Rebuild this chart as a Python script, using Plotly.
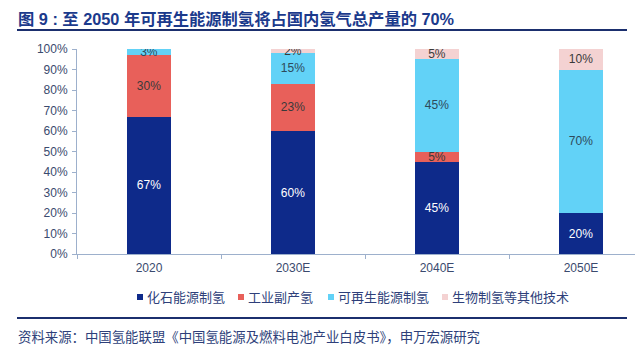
import plotly.graph_objects as go

categories = ["2020", "2030E", "2040E", "2050E"]
series_names = ["化石能源制氢", "工业副产氢", "可再生能源制氢", "生物制氢等其他技术"]
fossil = [67, 60, 45, 20]
industrial = [30, 23, 5, 0]
renewable = [3, 15, 45, 70]
bio = [0, 2, 5, 10]
y_ticks = [0, 10, 20, 30, 40, 50, 60, 70, 80, 90, 100]
y_tick_labels = [f"{v}%" for v in y_ticks]

title_text = "图 9 : 至 2050 年可再生能源制氢将占国内氢气总产量的 70%"
source_text = "资料来源：中国氢能联盟《中国氢能源及燃料电池产业白皮书》，申万宏源研究"

colors = ["#0E2A8A", "#E8605A", "#62D2F7", "#F4D2D2"]
label_colors = ["#FFFFFF", "#3A3A3A", "#2F4A5A", "#3A3A3A"]
FONT = "Liberation Sans, Arial, Noto Sans CJK SC, sans-serif"

W, H = 640, 358
L, R, T, B = 77, 635, 49, 254

def px_x(x):
    return (x - L) / (R - L)

def px_y(y):
    return (B - y) / (B - T)

fig = go.Figure()
for name, vals, c, lc in zip(series_names, [fossil, industrial, renewable, bio], colors, label_colors):
    fig.add_trace(go.Bar(
        x=categories, y=vals, name=name, marker=dict(color=c, line=dict(width=0)),
        width=0.31,
        text=[f"{v}%" if v > 0 else "" for v in vals],
        textposition="inside", insidetextanchor="middle",
        textfont=dict(color=lc, size=12, family=FONT),
        hoverinfo="skip", showlegend=False,
    ))

fig.update_layout(
    barmode="stack",
    width=W, height=H,
    margin=dict(l=L, r=W - R, t=T, b=H - B),
    paper_bgcolor="white", plot_bgcolor="white",
    uniformtext=dict(minsize=12, mode="show"),
    font=dict(family=FONT, size=12, color="#3A4A6E"),
    showlegend=False,
    xaxis=dict(range=[-0.5, -0.5 + (R - L) / 144.0], showline=True, linecolor="#9DB0CC",
               ticks="outside", tickson="boundaries", ticklen=4, tickcolor="#9DB0CC",
               ticklabelstandoff=3,
               showgrid=False, tickfont=dict(size=12, color="#3A4A6E"), fixedrange=True),
    yaxis=dict(range=[0, 100], tickmode="array", tickvals=y_ticks, ticktext=y_tick_labels,
               showline=True, ticklabelstandoff=2,
               linecolor="#9DB0CC", ticks="outside", ticklen=4, tickcolor="#9DB0CC",
               showgrid=False, tickfont=dict(size=12, color="#3A4A6E"), fixedrange=True),
)

# title and source
fig.add_annotation(xref="paper", yref="paper", x=px_x(16), y=px_y(19), xanchor="left", yanchor="middle",
                   text=f"<b>{title_text}</b>", showarrow=False,
                   font=dict(size=16.3, color="#1B3A8C", family=FONT))
fig.add_annotation(xref="paper", yref="paper", x=px_x(16), y=px_y(337), xanchor="left", yanchor="middle",
                   text=source_text, showarrow=False,
                   font=dict(size=13.4, color="#2E3F7A", family=FONT))
fig.add_shape(type="line", xref="paper", yref="paper", x0=px_x(17), x1=px_x(627), y0=px_y(30), y1=px_y(30),
              line=dict(color="#1B2F6E", width=2))
fig.add_shape(type="line", xref="paper", yref="paper", x0=px_x(17), x1=px_x(627), y0=px_y(318), y1=px_y(318),
              line=dict(color="#1B2F6E", width=2))

# legend (manual)
legend_x = [140, 241, 331, 445]
legend_y = 297
for name, c, lx in zip(series_names, colors, legend_x):
    fig.add_shape(type="rect", xref="paper", yref="paper",
                  x0=px_x(lx - 3), x1=px_x(lx + 3), y0=px_y(legend_y - 3), y1=px_y(legend_y + 3),
                  fillcolor=c, line=dict(width=0))
    fig.add_annotation(xref="paper", yref="paper", x=px_x(lx + 5), y=px_y(legend_y), xanchor="left",
                       yanchor="middle", text=name, showarrow=False,
                       font=dict(size=13, color="#2E3F7A", family=FONT))

fig.write_html("out.html", config={"displayModeBar": False},
               post_script="document.body.style.margin='0';")
